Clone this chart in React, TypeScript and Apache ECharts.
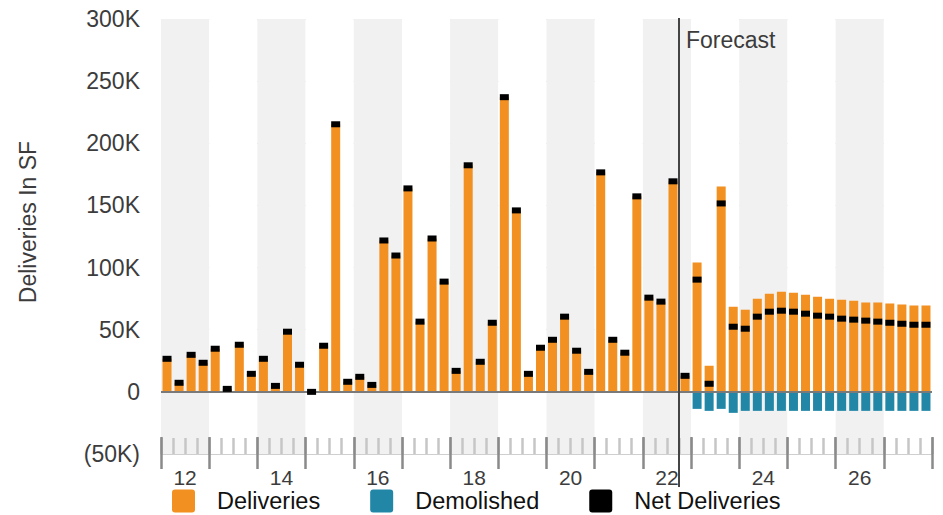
import React, { useEffect, useRef } from 'react';
import * as echarts from 'echarts';

// ---- data ----
const years = ['12', '13', '14', '15', '16', '17', '18', '19', '20', '21', '22', '23', '24', '25', '26', '27'];
const quarterNames = ['Q1', 'Q2', 'Q3', 'Q4'];
const quarters = years.flatMap((y) => quarterNames.map((q) => `20${y} ${q}`));

// Deliveries in SF (thousands)
const deliveriesK = [
  26.6, 7.3, 29.8, 23.4, 34.7, 2.4, 37.9, 14.5,
  26.6, 4.8, 48.4, 21.8, 0, 37.1, 215.3, 8.1,
  12.1, 5.6, 121.8, 109.7, 163.7, 56.5, 123.4, 88.7,
  16.9, 182.3, 24.2, 55.6, 237.1, 146, 14.5, 35.5,
  41.9, 60.5, 33.1, 16.1, 176.6, 41.9, 31.5, 157.3,
  75.8, 72.6, 169.4, 12.9, 104, 21, 165.3, 68.5,
  66.1, 75, 79, 80.6, 79.8, 78.2, 76.6, 75,
  74.2, 73.4, 71.8, 71.8, 71, 70.2, 69.4, 69.4,
];

// Demolished in SF (thousands, negative)
const demolishedK = [
  0, 0, 0, 0, 0, 0, 0, 0,
  0, 0, 0, 0, 0, 0, 0, 0,
  0, 0, 0, 0, 0, 0, 0, 0,
  0, 0, 0, 0, 0, 0, 0, 0,
  0, 0, 0, 0, 0, 0, 0, 0,
  0, 0, 0, 0, -13.7, -15.3, -13.7, -16.9,
  -15.3, -15.3, -15.3, -15.3, -15.3, -15.3, -15.3, -15.3,
  -15.3, -15.3, -15.3, -15.3, -15.3, -15.3, -15.3, -15.3,
];

// Net deliveries in SF (thousands)
const netDeliveriesK = [
  26.6, 7.3, 29.8, 23.4, 34.7, 2.4, 37.9, 14.5,
  26.6, 4.8, 48.4, 21.8, 0, 37.1, 215.3, 8.1,
  12.1, 5.6, 121.8, 109.7, 163.7, 56.5, 123.4, 88.7,
  16.9, 182.3, 24.2, 55.6, 237.1, 146, 14.5, 35.5,
  41.9, 60.5, 33.1, 16.1, 176.6, 41.9, 31.5, 157.3,
  75.8, 72.6, 169.4, 12.9, 90.3, 6.5, 151.6, 52.4,
  50.8, 60.5, 64.5, 65.3, 64.5, 62.9, 61.3, 60.5,
  58.9, 58.1, 57.3, 56.5, 55.6, 54.8, 54, 54,
];

const forecastStart = '2022 Q4';
const yMin = -50000;
const yMax = 300000;
const yStep = 50000;

const FONT = '"Liberation Sans", Arial, Helvetica, sans-serif';
const W = 943;
const H = 515;
const GRID = { left: 161, right: 11, top: 19, bottom: 61 };
const ICON = 'path://M3,0 L20,0 Q23,0 23,3 L23,20 Q23,23 20,23 L3,23 Q0,23 0,20 L0,3 Q0,0 3,0 Z';

export default function App() {
  const ref = useRef<HTMLDivElement>(null);

  useEffect(() => {
    if (!ref.current) return;
    const chart = echarts.init(ref.current, null, { renderer: 'svg' });

    const plotW = W - GRID.left - GRID.right;
    const fIdx = quarters.indexOf(forecastStart);
    const forecastX = Math.round(GRID.left + (fIdx * plotW) / quarters.length);

    const fmt = (v: number) => {
      if (v === 0) return '0';
      if (v < 0) return `(${Math.abs(v) / 1000}K)`;
      return `${v / 1000}K`;
    };

    chart.setOption({
      animation: false,
      textStyle: { fontFamily: FONT },
      grid: { ...GRID, containLabel: false },
      legend: {
        left: 167,
        top: 484,
        itemWidth: 23,
        itemHeight: 23,
        itemGap: 50,
        icon: ICON,
        data: ['Deliveries', 'Demolished', 'Net Deliveries'],
        formatter: (name: string) => `{t|${name}}`,
        textStyle: {
          fontSize: 23,
          color: '#111',
          fontFamily: FONT,
          rich: { t: { fontSize: 23.5, color: '#111', fontFamily: FONT, padding: [0, 0, 0, 17], lineHeight: 22 } },
        },
        selectedMode: false,
      },
      xAxis: [
        {
          type: 'category',
          data: quarters,
          position: 'bottom',
          axisLine: { show: true, onZero: false, lineStyle: { color: '#cfcfcf', width: 1 } },
          axisTick: { show: true, inside: true, length: 16, interval: 0, lineStyle: { color: '#c6c6c6', width: 2.5 } },
          axisLabel: { show: false },
          splitLine: { show: false },
        },
        {
          type: 'category',
          data: years,
          position: 'bottom',
          offset: -17,
          axisLine: { show: false, onZero: false },
          axisTick: { show: true, inside: false, length: 32, interval: 0, lineStyle: { color: '#8a8a8a', width: 2.5 } },
          axisLabel: { show: true, interval: 1, fontSize: 21, lineHeight: 19, color: '#3c3c3c', margin: 31, fontFamily: FONT },
          splitArea: { show: true, interval: 0, areaStyle: { color: ['#f1f1f1', '#ffffff'] } },
          splitLine: { show: false },
        },
      ],
      yAxis: {
        type: 'value',
        min: yMin,
        max: yMax,
        interval: yStep,
        axisLine: { show: false },
        axisTick: { show: false },
        axisLabel: { formatter: fmt, fontSize: 23, color: '#3c3c3c', margin: 21, fontFamily: FONT },
        splitLine: { show: true, lineStyle: { color: '#d6d6d6', width: 1 } },
      },
      series: [
        {
          name: 'Deliveries',
          type: 'bar',
          stack: 'sf',
          xAxisIndex: 0,
          barWidth: 9,
          itemStyle: { color: '#f29021' },
          data: deliveriesK.map((v) => v * 1000),
          markLine: {
            silent: true,
            symbol: 'none',
            label: { show: false },
            lineStyle: { color: '#7a7a7a', width: 2, type: 'solid' },
            data: [{ yAxis: 0 }],
          },
        },
        {
          name: 'Demolished',
          type: 'bar',
          stack: 'sf',
          xAxisIndex: 0,
          barWidth: 9,
          itemStyle: { color: '#2287a7' },
          data: demolishedK.map((v) => v * 1000),
        },
        {
          name: 'Net Deliveries',
          type: 'scatter',
          xAxisIndex: 0,
          symbol: 'rect',
          symbolSize: [9, 6],
          itemStyle: { color: '#000000', opacity: 1 },
          z: 6,
          data: netDeliveriesK.map((v) => v * 1000),
        },
      ],
      graphic: [
        {
          type: 'line',
          z: 10,
          shape: { x1: forecastX, y1: GRID.top - 1, x2: forecastX, y2: 487 },
          style: { stroke: '#444444', lineWidth: 2 },
          silent: true,
        },
        {
          type: 'text',
          z: 10,
          x: forecastX + 7,
          y: 40,
          style: { text: 'Forecast', fontSize: 23, fill: '#3c3c3c', fontFamily: FONT, verticalAlign: 'middle' },
          silent: true,
        },
        {
          type: 'text',
          z: 10,
          x: 28,
          y: 222,
          rotation: Math.PI / 2,
          style: {
            text: 'Deliveries In SF',
            fontSize: 23,
            fill: '#3c3c3c',
            fontFamily: FONT,
            align: 'center',
            verticalAlign: 'middle',
          },
          silent: true,
        },
      ],
    });

    return () => chart.dispose();
  }, []);

  return (
    <div
      ref={ref}
      style={{ position: 'absolute', left: 0, top: 0, width: W, height: H, background: '#ffffff' }}
    />
  );
}
